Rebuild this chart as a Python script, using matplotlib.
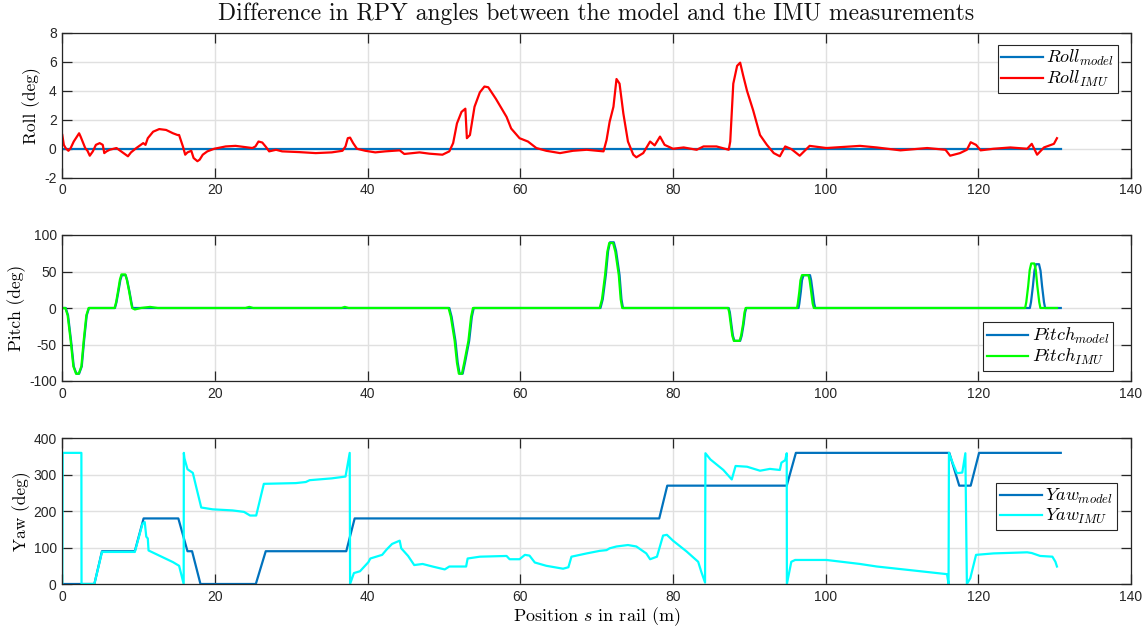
import matplotlib
matplotlib.use("Agg")
import matplotlib.pyplot as plt
import numpy as np

plt.rcParams['mathtext.fontset'] = 'cm'
plt.rcParams['axes.unicode_minus'] = False
plt.rcParams['font.family'] = ['Liberation Sans', 'DejaVu Sans']

# ---------------- data ----------------
roll_model_s = [0.0, 130.8]
roll_model_v = [0.0, 0.0]

roll_imu_s = [0.0, 0.2, 0.43, 0.8, 1.1, 1.5, 2.2, 2.4, 3.0, 3.3, 3.6, 4.0, 4.4, 4.9, 5.3, 5.5, 5.8, 6.2,
              7.1, 7.7, 8.6, 9.0, 9.7, 10.6, 10.9, 11.2, 11.9, 12.7, 13.6, 14.5, 15.1, 15.3, 15.8, 16.1,
              16.4, 16.9, 17.2, 17.7, 18.0, 18.4, 19.0, 19.9, 21.4, 22.7, 24.0, 24.9, 25.3, 25.7, 26.2,
              26.7, 27.1, 28.0, 28.8, 31.0, 33.2, 35.3, 36.7, 37.1, 37.4, 37.7, 38.1, 38.6, 39.7, 41.0,
              42.3, 44.2, 44.8, 46.8, 48.1, 49.8, 50.7, 51.2, 51.7, 52.3, 52.8, 53.0, 53.4, 54.0, 54.7,
              55.3, 55.8, 56.8, 58.2, 58.8, 59.9, 61.0, 62.1, 63.4, 65.2, 66.9, 68.7, 70.9, 71.3, 71.7,
              72.2, 72.6, 73.0, 73.5, 74.1, 74.8, 75.2, 76.1, 77.0, 77.6, 78.3, 78.9, 80.0, 81.4, 83.1,
              84.0, 85.7, 87.3, 87.5, 87.9, 88.4, 88.8, 89.2, 89.7, 90.5, 91.4, 92.3, 93.2, 94.0, 94.7,
              95.5, 96.6, 97.9, 100.1, 104.5, 106.7, 109.8, 113.3, 115.7, 116.3, 117.6, 118.5, 119.0,
              119.7, 120.3, 122.0, 124.2, 126.4, 127.0, 127.7, 128.6, 129.9, 130.3]
roll_imu_v = [0.95, 0.27, 0.05, -0.14, 0.05, 0.5, 1.07, 0.84, 0.05, -0.14, -0.48, -0.18, 0.27, 0.39, 0.27,
              -0.3, -0.18, -0.07, 0.05, -0.18, -0.52, -0.25, 0.05, 0.39, 0.27, 0.73, 1.18, 1.36, 1.3,
              1.07, 0.95, 0.95, 0.16, -0.41, -0.25, -0.14, -0.64, -0.86, -0.75, -0.41, -0.18, 0.0, 0.16,
              0.2, 0.11, 0.05, 0.16, 0.5, 0.43, 0.11, -0.18, -0.07, -0.18, -0.23, -0.3, -0.25, -0.14,
              0.16, 0.73, 0.77, 0.39, 0.0, -0.14, -0.25, -0.18, -0.11, -0.36, -0.25, -0.34, -0.41,
              -0.18, 0.39, 1.75, 2.55, 2.77, 0.73, 0.95, 2.9, 3.9, 4.3, 4.25, 3.45, 2.2, 1.4, 0.73,
              0.5, 0.05, -0.14, -0.3, -0.14, -0.07, -0.18, 0.61, 1.86, 2.9, 4.82, 4.5, 2.43, 0.5,
              -0.41, -0.59, -0.3, 0.5, 0.23, 0.84, 0.27, 0.0, 0.09, -0.07, 0.16, 0.16, -0.07, 0.5,
              4.5, 5.73, 5.95, 5.05, 4.0, 2.66, 0.95, 0.27, -0.3, -0.52, 0.16, -0.02, -0.48, 0.2, 0.05,
              0.2, 0.09, -0.11, 0.05, -0.07, -0.48, -0.3, -0.07, 0.45, 0.27, -0.11, 0.0, 0.09, 0.0,
              0.34, -0.41, 0.09, 0.34, 0.73]

pitch_model_s = [0.0, 0.45, 0.75, 1.15, 1.5, 1.85, 2.2, 2.55, 2.85, 3.2, 3.5,
                 6.9, 7.1, 7.35, 7.6, 7.8, 8.3, 8.5, 8.8, 9.05, 9.2,
                 50.7, 51.0, 51.5, 51.8, 52.05, 52.45, 52.75, 53.3, 53.65, 53.9,
                 70.5, 70.8, 71.2, 71.5, 71.75, 72.25, 72.55, 73.0, 73.25, 73.45,
                 87.3, 87.45, 87.65, 87.85, 88.05, 88.8, 89.0, 89.25, 89.45, 89.6,
                 96.45, 96.55, 96.75, 96.9, 97.1, 97.95, 98.1, 98.3, 98.5, 98.65,
                 126.75, 126.9, 127.15, 127.35, 127.55, 127.95, 128.15, 128.35, 128.6, 128.75, 130.8]
pitch_model_v = [0, 0, -10, -45, -80, -90, -90, -80, -45, -10, 0,
                 0, 8, 22.5, 38, 45, 45, 38, 22.5, 8, 0,
                 0, -12, -45, -75, -90, -90, -75, -45, -12, 0,
                 0, 12, 45, 78, 90, 90, 78, 45, 12, 0,
                 0, -6, -22.5, -38, -45, -45, -38, -22.5, -6, 0,
                 0, 6, 22.5, 38, 45, 45, 38, 22.5, 6, 0,
                 0, 8, 30, 51, 60, 60, 51, 30, 8, 0, 0]

pitch_imu_s = [0.0, 0.4, 0.7, 1.1, 1.45, 1.8, 2.15, 2.5, 2.8, 3.15, 3.45,
               6.85, 7.05, 7.3, 7.55, 7.75, 8.25, 8.45, 8.75, 9.0, 9.15, 9.5, 10.3, 11.5, 12.5,
               24.0, 24.5, 25.0, 36.6, 37.0, 37.5,
               50.6, 50.9, 51.4, 51.7, 51.95, 52.35, 52.65, 53.2, 53.55, 53.8,
               70.4, 70.7, 71.1, 71.4, 71.65, 72.15, 72.45, 72.9, 73.15, 73.35,
               87.22, 87.37, 87.57, 87.77, 87.97, 88.72, 88.92, 89.17, 89.37, 89.52,
               96.25, 96.35, 96.55, 96.7, 96.9, 97.75, 97.9, 98.1, 98.3, 98.45,
               126.13, 126.28, 126.53, 126.73, 126.93, 127.33, 127.53, 127.73, 127.98, 128.13, 130.3]
pitch_imu_v = [0, 0, -10, -45, -80, -90, -90, -80, -45, -10, 0,
               0, 8, 23, 39, 46, 46, 39, 23, 8, 0, -2, 0, 1.5, 0,
               0, 1.5, 0, 0, 1.5, 0,
               0, -12, -45, -75, -90, -90, -75, -45, -12, 0,
               0, 12, 45, 77, 89, 89, 77, 45, 12, 0,
               0, -6, -22.5, -38, -45, -45, -38, -22.5, -6, 0,
               0, 6, 22.5, 38, 45, 45, 38, 22.5, 6, 0,
               0, 8, 30, 52, 61, 61, 52, 30, 8, 0, 0]

yaw_model_s = [0.0, 4.2, 5.2, 9.5, 10.65, 15.2, 16.4, 17.0, 18.1, 25.35, 26.65, 37.2, 38.3, 78.2, 79.25,
               94.9, 96.1, 116.2, 117.5, 119.0, 120.1, 130.8]
yaw_model_v = [0, 0, 90, 90, 180, 180, 90, 90, 0, 0, 90, 90, 180, 180, 270, 270, 360, 360, 270, 270, 360,
               360]

yaw_imu_s = [0.0, 0.05, 2.5, 2.52, 4.2, 5.2, 9.5, 10.5, 10.8, 11.0, 11.2, 11.3, 14.5, 15.3, 15.9, 15.92,
             16.0, 16.4, 17.1, 17.5, 18.2, 19.7, 22.3, 23.8, 24.6, 25.4, 26.4, 30.6, 31.9, 32.4, 35.3,
             37.1, 37.65, 37.7, 38.2, 39.0, 40.1, 40.35, 41.9, 42.5, 43.2, 44.2, 44.4, 45.3, 46.1, 47.2,
             48.5, 50.1, 50.7, 52.9, 53.1, 54.7, 58.2, 58.6, 59.9, 60.6, 61.2, 61.9, 63.4, 65.6, 66.3,
             66.7, 68.7, 70.4, 71.3, 71.7, 72.6, 74.1, 75.2, 76.5, 77.0, 77.9, 78.7, 79.2, 80.0, 81.8,
             83.3, 83.7, 84.2, 84.25, 84.9, 86.6, 87.7, 88.2, 89.7, 91.4, 92.7, 94.0, 94.2, 94.7, 94.9,
             94.92, 95.5, 96.0, 100.1, 104.5, 106.7, 111.1, 115.9, 116.1, 116.15, 116.5, 117.2, 117.9,
             118.3, 118.5, 118.95, 119.7, 122.0, 126.4, 127.0, 128.1, 129.7, 130.1, 130.3]
yaw_imu_v = [0, 360, 360, 0, 0, 88, 88, 165, 170, 130, 125, 92, 60, 50, 0, 360, 345, 315, 305, 270, 210,
             205, 202, 198, 188, 188, 275, 277, 280, 285, 290, 295, 360, 0, 30, 35, 60, 70, 80, 95, 110,
             119, 98, 77, 52, 55, 48, 40, 48, 48, 70, 75, 77, 68, 68, 80, 78, 59, 50, 42, 46, 75, 84, 91,
             93, 98, 103, 107, 103, 84, 68, 75, 133, 135, 119, 89, 61, 34, 4, 359, 342, 313, 287, 324,
             322, 311, 316, 313, 333, 340, 359, 0, 61, 66, 66, 55, 48, 38, 27, 0, 360, 340, 304, 306,
             359, 0, 16, 80, 84, 87, 85, 77, 75, 61, 48]

x_ticks = [0, 20, 40, 60, 80, 100, 120, 140]

# ---------------- style ----------------
C_MODEL = '#0072BD'
AX_COLOR = '#262626'
GRID_COLOR = '#e0e0e0'
LW = 1.6
SERIF = 'cmr10'

W, H = 1147, 629
fig = plt.figure(figsize=(W / 100, H / 100), dpi=100)


def px_axes(left, top, right, bottom):
    return fig.add_axes([left / W, 1 - bottom / H, (right - left) / W, (bottom - top) / H])


def style(ax, ylim, yticks):
    ax.set_xlim(0, 140)
    ax.set_ylim(*ylim)
    ax.set_xticks(x_ticks)
    ax.set_yticks(yticks)
    ax.grid(True, color=GRID_COLOR, lw=1.0)
    ax.set_axisbelow(True)
    ax.tick_params(direction='in', top=True, right=True, length=7, width=0.9,
                   colors=AX_COLOR, labelsize=10, pad=4)
    for sp in ax.spines.values():
        sp.set_color(AX_COLOR)
        sp.set_linewidth(0.9)


def legend(ax, anchor):
    lg = ax.legend(loc='upper right', bbox_to_anchor=anchor, borderaxespad=0, fancybox=False,
                   framealpha=1, edgecolor=AX_COLOR, fontsize=13, handlelength=2.3,
                   handletextpad=0.2, labelspacing=0.05, borderpad=0.2)
    lg.get_frame().set_linewidth(0.8)


# Roll
ax1 = px_axes(62.3, 33, 1131, 177.7)
ax1.plot(roll_model_s, roll_model_v, color=C_MODEL, lw=LW, label=r'$Roll_{model}$')
ax1.plot(roll_imu_s, roll_imu_v, color='#FF0000', lw=LW, label=r'$Roll_{IMU}$')
style(ax1, (-2, 8), [-2, 0, 2, 4, 6, 8])
ax1.set_ylabel('Roll (deg)', family=SERIF, fontsize=12.5, labelpad=2)
legend(ax1, (0.988, 0.92))

# Pitch
ax2 = px_axes(62.3, 235, 1131, 381)
ax2.plot(pitch_model_s, pitch_model_v, color=C_MODEL, lw=LW, label=r'$Pitch_{model}$')
ax2.plot(pitch_imu_s, pitch_imu_v, color='#00FF00', lw=LW, label=r'$Pitch_{IMU}$')
style(ax2, (-100, 100), [-100, -50, 0, 50, 100])
ax2.set_ylabel('Pitch (deg)', family=SERIF, fontsize=12.5, labelpad=2)
legend(ax2, (0.983, 0.402))

# Yaw
ax3 = px_axes(62.3, 438.3, 1131, 584)
ax3.plot(yaw_model_s, yaw_model_v, color=C_MODEL, lw=LW, label=r'$Yaw_{model}$')
ax3.plot(yaw_imu_s, yaw_imu_v, color='#00FFFF', lw=LW, label=r'$Yaw_{IMU}$')
style(ax3, (0, 400), [0, 100, 200, 300, 400])
ax3.set_ylabel('Yaw (deg)', family=SERIF, fontsize=12.5, labelpad=2)
ax3.set_xlabel(r'Position $s$ in rail (m)', family=SERIF, fontsize=13, labelpad=1)
legend(ax3, (0.9866, 0.691))

fig.text(596 / W, 1 - 14 / H, 'Difference in RPY angles between the model and the IMU measurements',
         family=SERIF, fontsize=17, ha='center', va='center', color='#111111')

fig.savefig('out.png', dpi=100)
